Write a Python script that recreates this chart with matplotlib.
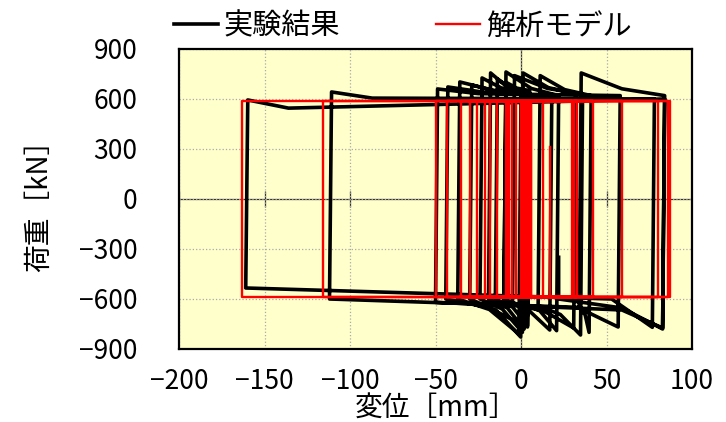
import numpy as np
import matplotlib.pyplot as plt

plt.rcParams['font.family'] = ['Noto Sans CJK JP', 'DejaVu Sans']

## 実験結果: reversal displacement [mm], load arriving at it [kN],
## peak load just after it [kN], load where the peak has settled [kN]
exp_first_peak = 620
exp_rev = [5, -10, 5, -15, 3, -19, 2, -24, 1, -30, 0, -37, 5, -44, 18, -10,
           22, 0, 32, -5, 36, 10, 41, 34, 84, -50, 58, -112, 78, -161, 84]
exp_end = [640, -600, 650, -600, 640, -600, 640, -600, 640, -600, 630, -600,
           630, -600, 620, -610, 620, -620, 630, -630, 630, -640, 620, -650,
           620, -620, 620, -600, 600, -534, 600]
exp_peak = [-700, 700, -760, 720, -780, 756, -800, 726, -828, 684, -810, 702,
            -768, 672, -786, 762, -790, 756, -774, 740, -816, 740, -800, 756,
            -774, 660, -768, 642, -770, 594, -780]
exp_knee = [-630, 665, -648, 664, -654, 675, -660, 666, -668, 646, -663, 652,
            -650, 636, -663, 663, -671, 668, -673, 663, -693, 656, -695, 661,
            -666, 632, -650, 605, -600, 545, -654]
exp_last_disp = 22
exp_last_end = -600
exp_last_load = -350

## 解析モデル: yield load [kN] and reversal displacements [mm]
model_yield = 590
model_rev = [3, -5, 5, -8, 6, -9, 4, -14, 2, -18, 0, -21, 6, -26, 1, -30, 4,
             -35, 13, -43, 30, -7, 33, -3, 42, 31, 59, -50, 86, -116, 80,
             -163, 87]
model_last_disp = 17
model_last_load = 312

xticks = [-200, -150, -100, -50, 0, 50, 100]
yticks = [-900, -600, -300, 0, 300, 600, 900]

## build paths
ex = [0, 1]
ey = [0, exp_first_peak]
nxt = exp_rev[1:] + [exp_last_disp]
for d, e, p, kn, n in zip(exp_rev, exp_end, exp_peak, exp_knee, nxt):
    s = np.sign(n - d)
    k = min(0.5 * abs(n - d), 25)
    ex += [d, d + 1.2 * s, d + k * s]
    ey += [e, p, kn]
ex += [exp_last_disp, exp_last_disp]
ey += [exp_last_end, exp_last_load]

mx = [0, 0]
my = [0, model_yield]
load = model_yield
for d in model_rev:
    mx += [d, d]
    my += [load, -load]
    load = -load
mx += [model_last_disp, model_last_disp]
my += [load, model_last_load]

fig = plt.figure(figsize=(7.26, 4.22), dpi=100)
ax = fig.add_axes([0.2466, 0.173, 0.7066, 0.711])
ax.set_facecolor('#ffffcc')

ax.grid(True, color='#aaaaaa', linestyle=':', linewidth=0.9)
ax.axhline(0, color='#333333', linewidth=0.9, zorder=1)
ax.axvline(0, color='#333333', linewidth=0.9, zorder=1)
ax.vlines(xticks, -50, 50, color='#333333', linewidth=0.9, zorder=1)

ax.plot(ex, ey, color='black', linewidth=2.6, solid_joinstyle='round',
        label='実験結果', zorder=2)
ax.plot(mx, my, color='red', linewidth=1.7, label='解析モデル', zorder=3)

ax.set_xlim(-200, 100)
ax.set_ylim(-900, 900)
ax.set_xticks(xticks)
ax.set_yticks(yticks)
ax.tick_params(length=0, labelsize=19)
ax.tick_params(axis='x', pad=14)
ax.tick_params(axis='y', pad=30)
for sp in ax.spines.values():
    sp.set_linewidth(1.6)

ax.set_xlabel('変位［mm］', fontsize=20, labelpad=-2)
ax.set_ylabel('荷重［kN］', fontsize=20, labelpad=18)

fig.legend(loc='upper center', bbox_to_anchor=(0.555, 1.035), ncol=2,
           frameon=False, fontsize=21, handlelength=1.5, handletextpad=0.2,
           columnspacing=3.3)

fig.savefig('out.png')
